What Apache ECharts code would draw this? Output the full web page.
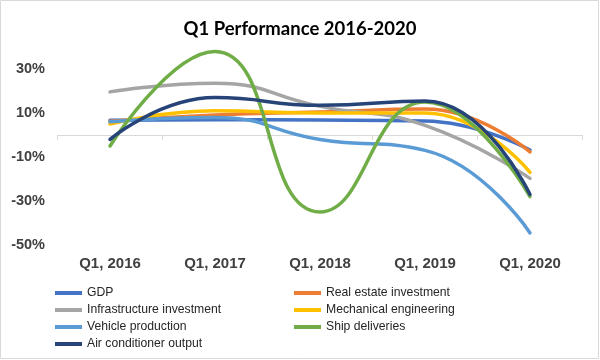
<!DOCTYPE html>
<html>
<head>
<meta charset="utf-8">
<script src="https://cdn.jsdelivr.net/npm/echarts@6/dist/echarts.min.js"></script>
<style>html,body{margin:0;padding:0;background:#fff}#c{width:600px;height:360px}</style>
</head>
<body>
<div id="c"></div>
<script>
const categories = ['Q1, 2016', 'Q1, 2017', 'Q1, 2018', 'Q1, 2019', 'Q1, 2020'];
const gdp = [6.7, 6.9, 6.8, 6.4, -6.8];
const realEstate = [6.2, 9.1, 10.4, 11.8, -7.7];
const infrastructure = [19.6, 23.5, 13.0, 4.4, -19.7];
const mechanical = [5, 11, 10, 10, -17];
const vehicle = [6, 8, -2, -7, -44.5];
const ship = [-5, 38, -35, 15, -28];
const airCon = [-2, 17, 13.5, 15.5, -27];

const names = ['GDP', 'Real estate investment', 'Infrastructure investment', 'Mechanical engineering',
  'Vehicle production', 'Ship deliveries', 'Air conditioner output'];
const colors = ['#4472C4', '#ED7D31', '#A5A5A5', '#FFC000', '#5B9BD5', '#70AD47', '#264478'];
const values = [gdp, realEstate, infrastructure, mechanical, vehicle, ship, airCon];

const chart = echarts.init(document.getElementById('c'), null, {renderer: 'canvas'});
const legendText = {fontFamily: "'Liberation Sans Narrow', 'Liberation Sans', Arial", fontSize: 12.2, color: '#262626', lineHeight: 14};
chart.setOption({
  animation: false,
  color: colors,
  title: {
    text: 'Q1 Performance 2016-2020',
    left: 'center', top: 20, padding: 0,
    textStyle: {fontFamily: 'Lato', fontWeight: 'bold', fontSize: 18.5, color: '#000'}
  },
  graphic: [{type: 'rect', shape: {x: 0.5, y: 0.5, width: 598, height: 358}, style: {fill: 'none', stroke: '#d9d9d9', lineWidth: 1}, silent: true}],
  grid: {left: 57.5, right: 17.5, top: 25, bottom: 115, containLabel: false, outerBoundsMode: 'none'},
  xAxis: [{
    type: 'category', data: categories, boundaryGap: true, position: 'bottom',
    axisLine: {show: false, onZero: false}, axisTick: {show: false},
    axisLabel: {margin: 11, fontFamily: "'Liberation Sans', Arial", fontWeight: 'bold', fontSize: 15, color: '#404040'},
    splitLine: {show: false}
  }, {
    type: 'category', data: categories, boundaryGap: true, position: 'top',
    axisLine: {show: true, onZero: true, lineStyle: {color: '#d9d9d9', width: 1}},
    axisTick: {show: true, inside: true, length: 5, lineStyle: {color: '#d9d9d9'}},
    axisLabel: {show: false}, splitLine: {show: false}
  }],
  yAxis: {
    type: 'value', min: -50, max: 50, interval: 20,
    axisLine: {show: false}, axisTick: {show: false}, splitLine: {show: false},
    axisLabel: {showMaxLabel: false, formatter: '{value}%', margin: 12.5, fontFamily: "'Liberation Sans', Arial", fontWeight: 'bold', fontSize: 14.5, color: '#404040'}
  },
  legend: [
    {data: [names[0], names[2], names[4], names[6]], orient: 'vertical', left: 55, top: 286, itemGap: 3, padding: 0,
     icon: 'rect', itemWidth: 27, itemHeight: 4, textStyle: legendText},
    {data: [names[1], names[3], names[5]], orient: 'vertical', left: 294, top: 286, itemGap: 3, padding: 0,
     icon: 'rect', itemWidth: 27, itemHeight: 4, textStyle: legendText}
  ],
  series: names.map((n, i) => ({
    name: n, type: 'line', xAxisIndex: 0, data: values[i], smooth: 0.5, showSymbol: false, symbol: 'none',
    lineStyle: {width: 3.5, color: colors[i], cap: 'round'}, itemStyle: {color: colors[i]}
  }))
});
</script>
</body>
</html>
